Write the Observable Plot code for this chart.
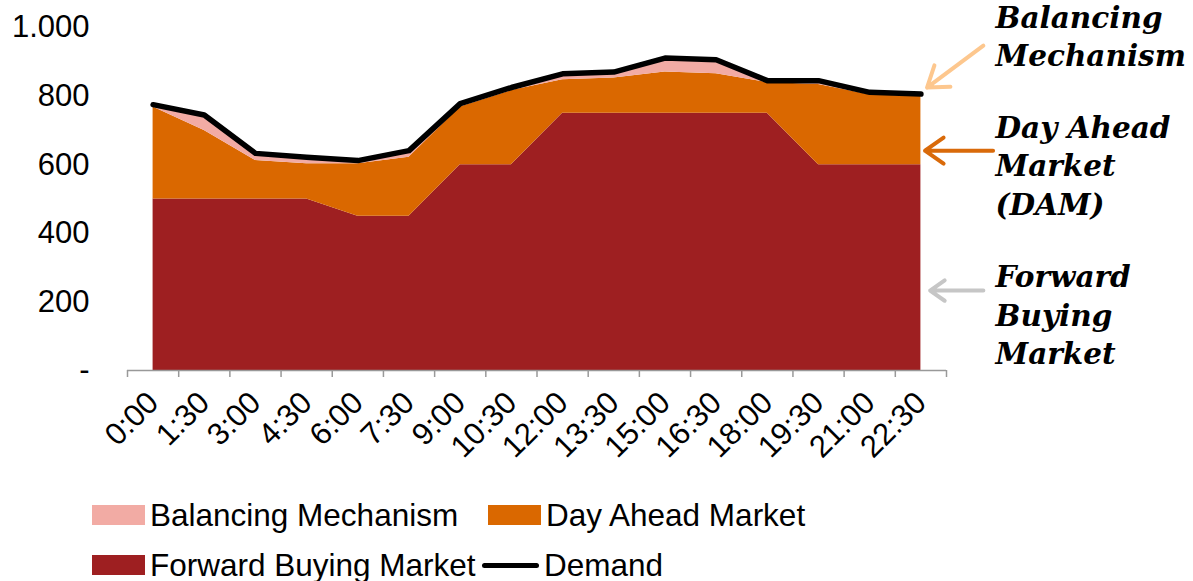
<!DOCTYPE html>
<html>
<head>
<meta charset="utf-8">
<script src="https://cdn.jsdelivr.net/npm/d3@7"></script>
<script src="https://cdn.jsdelivr.net/npm/@observablehq/plot@0.6"></script>
<style>
  html, body { margin: 0; padding: 0; background: #fff; }
  #chart svg { display: block; }
  .legend { font-family: "Liberation Sans", Arial, sans-serif; font-size: 31.5px; color: #000;
    display: grid; grid-template-columns: 396px auto; padding-left: 92px; }
  .legend .item { display: flex; align-items: center; height: 50px; white-space: nowrap; }
  .legend .sw { width: 53px; height: 20px; margin-right: 5px; }
  .legend .ln { width: 57px; height: 5px; background: #000; border-radius: 3px; margin-right: 5px; margin-left: -6px; }
</style>
</head>
<body>
<div id="chart"></div>
<div class="legend" id="legend"></div>
<script>
// ---- Data ----
const times = ["0:00","1:30","3:00","4:30","6:00","7:30","9:00","10:30","12:00","13:30","15:00","16:30","18:00","19:30","21:00","22:30"];
const forwardBuying = [500,500,500,500,450,450,600,600,750,750,750,750,750,600,600,600];
const dayAhead      = [268,200,112,103,153,172,168,216,98,103,120,115,90,234,204,199];
const balancing     = [7,45,21,19,9,19,10,9,17,17,41,41,5,11,7,7];
const demand        = [775,745,633,622,612,641,778,825,865,870,911,906,845,845,811,806];
const seriesNames = ["Balancing Mechanism","Day Ahead Market","Forward Buying Market"];
const seriesColors = ["#f2aba4","#da6800","#9e1f21"];
const yTicks = [0,200,400,600,800,1000];

// Annotations (label lines, y in data units; arrows in data units)
const annoLabels = [
  {text: "Balancing\nMechanism", y: 1079},
  {text: "Day Ahead\nMarket\n(DAM)", y: 757},
  {text: "Forward\nBuying\nMarket", y: 322}
];
const annoArrows = [
  {x1: 16.22, y1: 947, x2: 15.12, y2: 825, color: "#fdc78e"},
  {x1: 16.41, y1: 641, x2: 15.08, y2: 641, color: "#d96a0a"},
  {x1: 16.22, y1: 233, x2: 15.18, y2: 233, color: "#c6c6c6"}
];

// ---- Build tables ----
const stacked = [];
times.forEach((t, i) => {
  stacked.push({i, series: "Forward Buying Market", value: forwardBuying[i]});
  stacked.push({i, series: "Day Ahead Market", value: dayAhead[i]});
  stacked.push({i, series: "Balancing Mechanism", value: balancing[i]});
});
const demandRows = demand.map((v, i) => ({i, value: v}));

const fmt = d => d === 0 ? "-" : d3.format(",")(d).replace(",", ".");

const chart = Plot.plot({
  width: 1193,
  height: 490,
  marginLeft: 127,
  marginRight: 247,
  marginTop: 27,
  marginBottom: 120,
  style: {fontFamily: "'Liberation Sans', Arial, sans-serif", color: "#000", background: "#fff"},
  x: {type: "linear", domain: [-0.5, 15.5], axis: null},
  y: {domain: [0, 1000], axis: null},
  color: {domain: seriesNames, range: seriesColors},
  marks: [
    Plot.areaY(stacked, {x: "i", y: "value", fill: "series", order: ["Forward Buying Market","Day Ahead Market","Balancing Mechanism"]}),
    Plot.lineY(demandRows, {x: "i", y: "value", stroke: "#000", strokeWidth: 5.5, strokeLinecap: "round", strokeLinejoin: "round"}),
    Plot.ruleY([0], {stroke: "#999", strokeWidth: 1.5}),
    Plot.axisX({ticks: d3.range(17).map(k => k - 0.5), tickFormat: () => "", tickSize: 7, stroke: "#999", strokeWidth: 1.5}),
    Plot.axisX({ticks: d3.range(16), tickSize: 0, tickPadding: 27, tickRotate: -45, tickFormat: k => times[k], fontSize: 31}),
    Plot.axisY({ticks: yTicks, tickSize: 0, tickPadding: 38, tickFormat: fmt, fontSize: 31}),
    Plot.arrow(annoArrows, {x1: "x1", y1: "y1", x2: "x2", y2: "y2", stroke: "color", strokeWidth: 4, headLength: 16, headAngle: 70}),
    Plot.text(annoLabels, {y: "y", text: "text", frameAnchor: "right", dx: 49, textAnchor: "start", lineAnchor: "top",
      fontFamily: "'DejaVu Serif', Georgia, serif", fontWeight: "bold", fontStyle: "italic", fontSize: 29.5, lineHeight: 1.3, fill: "#000"})
  ]
});
document.getElementById("chart").appendChild(chart);

// Legend
const legend = document.getElementById("legend");
const items = [
  {label: "Balancing Mechanism", color: seriesColors[0]},
  {label: "Day Ahead Market", color: seriesColors[1]},
  {label: "Forward Buying Market", color: seriesColors[2]},
  {label: "Demand", line: true}
];
items.forEach(it => {
  const d = document.createElement("div");
  d.className = "item";
  const s = document.createElement("span");
  if (it.line) { s.className = "ln"; } else { s.className = "sw"; s.style.background = it.color; }
  d.appendChild(s);
  d.appendChild(document.createTextNode(it.label));
  legend.appendChild(d);
});
</script>
</body>
</html>
